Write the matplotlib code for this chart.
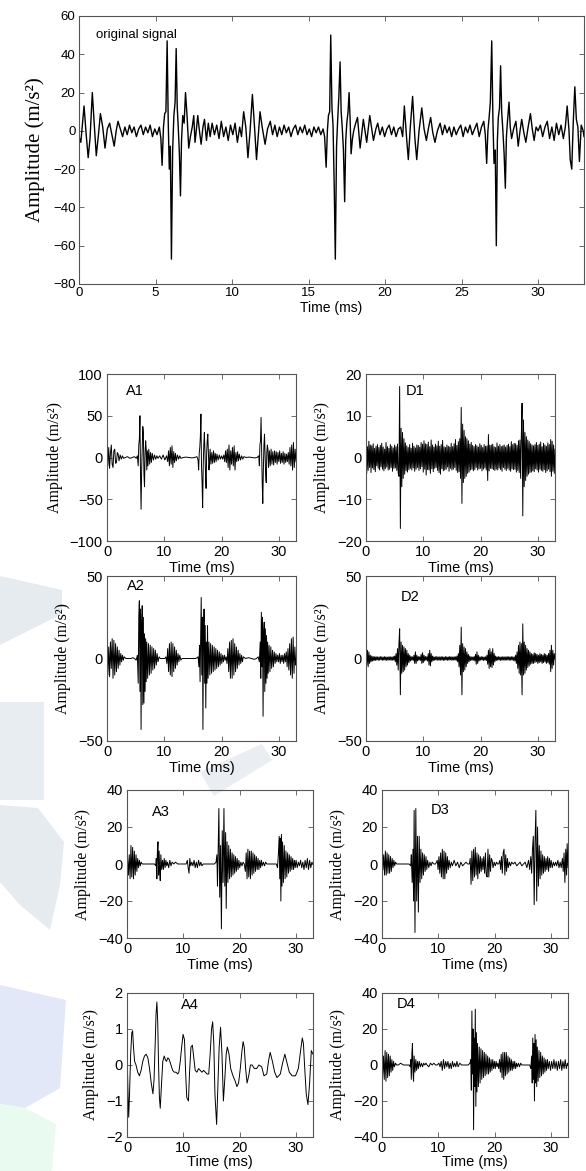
import numpy as np
import matplotlib
matplotlib.use("Agg")
import matplotlib.pyplot as plt
from matplotlib.patches import Polygon

plt.rcParams['font.family'] = ['Liberation Sans', 'DejaVu Sans']

# ---- data: (time ms, amplitude m/s^2) ----
orig_pts = [
    (0.00, -3), (0.12, -6), (0.33, 13), (0.47, -2), (0.60, -14), (0.72, -4), (0.87, 20), (1.00, 3),
    (1.13, -13), (1.27, -2), (1.40, 9), (1.55, 2), (1.70, -9), (1.85, 1), (2.00, 4), (2.15, -2),
    (2.30, -8), (2.43, 0), (2.55, 5), (2.70, 1), (2.85, -3), (3.00, 2),
    (3.15, -2), (3.30, 3), (3.45, -1), (3.60, 2), (3.75, -3), (3.90, 1), (4.05, 3), (4.20, -2),
    (4.35, 2), (4.50, -1), (4.65, 3), (4.80, -3), (4.95, 1), (5.10, -2), (5.25, 2),
    (5.35, -4), (5.43, -18), (5.52, 2), (5.60, 9), (5.68, 10), (5.76, 47), (5.83, 5), (5.90, -20),
    (5.97, -8), (6.04, -67), (6.12, -10), (6.20, 8), (6.28, 15), (6.35, 43), (6.42, 12), (6.48, 3),
    (6.56, -12), (6.63, -34), (6.70, -5), (6.78, 8), (6.87, 4), (6.96, 20), (7.06, 8), (7.17, -9),
    (7.28, -3), (7.40, 2), (7.50, 8), (7.58, -6), (7.65, -1), (7.76, 8), (7.87, 0), (7.98, -7),
    (8.10, 2), (8.20, 6), (8.33, -5), (8.45, 4), (8.57, -3), (8.70, 4),
    (8.85, -2), (9.00, 3), (9.15, -4), (9.30, 5), (9.45, -3), (9.60, 2), (9.75, -5), (9.90, 3),
    (10.05, -2), (10.20, 4), (10.35, -6), (10.50, 2),
    (10.62, -3), (10.76, 10), (10.90, 2), (11.04, -14), (11.18, 0), (11.33, 19), (11.47, 2),
    (11.60, -15), (11.72, -2), (11.83, 10), (11.97, 2), (12.16, -7), (12.32, 1), (12.50, 5),
    (12.65, -2), (12.80, 3),
    (12.95, -3), (13.10, 2), (13.25, -2), (13.40, 3), (13.55, -1), (13.70, 2), (13.85, -3),
    (14.00, 1), (14.15, 3), (14.30, -2), (14.45, 2), (14.60, -1), (14.75, 3), (14.90, -2),
    (15.05, 1), (15.20, -3), (15.35, 2), (15.50, -1), (15.65, 2), (15.80, -2), (15.95, 1),
    (16.05, -3), (16.15, -19), (16.23, 0), (16.30, 8), (16.38, 10), (16.45, 50), (16.53, 12),
    (16.60, 3), (16.68, -30), (16.75, -67), (16.83, -8), (16.90, 5), (16.98, 18), (17.06, 36),
    (17.13, 10), (17.20, 2), (17.28, -10), (17.36, -37), (17.43, -5), (17.50, 4), (17.58, 10),
    (17.65, 20), (17.72, 5), (17.78, -12), (17.87, -4), (17.95, 0), (18.08, 4), (18.20, 7),
    (18.37, -9), (18.58, 6), (18.80, -6), (19.00, 8), (19.24, -5), (19.40, 1), (19.52, 4),
    (19.67, -2), (19.82, 2), (19.97, -3), (20.12, 1), (20.27, 3), (20.42, -2), (20.57, 2),
    (20.72, -3), (20.87, 1), (21.02, 2),
    (21.15, -3), (21.26, 13), (21.40, -3), (21.52, -15), (21.65, 2), (21.80, 18), (21.95, -4),
    (22.07, -15), (22.22, 0), (22.40, 12), (22.55, 1), (22.70, -5), (22.85, 2), (22.98, 7),
    (23.12, -1), (23.26, -6), (23.42, 0), (23.60, 4),
    (23.75, -2), (23.90, 3), (24.05, -1), (24.20, 2), (24.35, -3), (24.50, 2), (24.65, -2),
    (24.80, 1), (24.95, 3), (25.10, -3), (25.25, 2), (25.40, -1), (25.55, 3), (25.70, -2),
    (25.85, 1), (26.00, 4), (26.15, -3), (26.30, 2), (26.45, 5),
    (26.55, -2), (26.64, -17), (26.72, 0), (26.80, 7), (26.88, 15), (26.97, 47), (27.05, 5),
    (27.12, -17), (27.20, -10), (27.27, -60), (27.34, -5), (27.40, 7), (27.48, 12), (27.55, 34),
    (27.62, 10), (27.70, 0), (27.78, -12), (27.86, -30), (27.93, -3), (28.00, 5), (28.10, 15),
    (28.18, 2), (28.27, -4), (28.40, 1), (28.55, 5), (28.70, -8), (28.82, 0), (28.93, 6),
    (29.07, -1), (29.20, -6), (29.35, 2), (29.50, 9), (29.62, 1), (29.74, -5), (29.87, 2),
    (30.00, 0), (30.15, 3), (30.30, -3), (30.45, 2), (30.60, 5), (30.75, -4), (30.90, 2),
    (31.05, -5), (31.20, 4), (31.35, -2), (31.50, 3), (31.65, -4), (31.78, 2),
    (31.90, 13), (32.02, 0), (32.10, -15), (32.20, -20), (32.30, 5), (32.40, 23), (32.50, 6),
    (32.60, 2), (32.70, -16), (32.82, 3), (32.95, 0), (33.00, -3),
]

a1_pts = [
    (0.00, 0), (0.15, -10), (0.30, 12), (0.45, -13), (0.60, 5), (0.75, 15), (0.90, -8), (1.05, -12),
    (1.20, 8), (1.35, 10), (1.50, -7), (1.65, -6), (1.80, 6), (1.95, 4), (2.10, -4), (2.30, 3),
    (2.50, -2), (2.70, 2), (2.90, -1), (3.2, 0), (3.6, 1), (4.0, -1), (4.4, 0), (4.8, 1),
    (5.1, -1), (5.3, 2),
    (5.45, -10), (5.55, 15), (5.65, 22), (5.75, 50), (5.85, -20), (5.95, -62), (6.05, -15),
    (6.15, 10), (6.25, 37), (6.35, 30), (6.45, -20), (6.55, -35), (6.65, 5), (6.75, 20),
    (6.85, 10), (6.95, -15), (7.05, 8), (7.15, -10), (7.30, 10), (7.45, -8), (7.60, 6),
    (7.75, -6), (7.90, 5), (8.10, -3), (8.30, 3), (8.50, -2), (8.70, 2), (8.90, -1), (9.2, 2),
    (9.5, -2), (9.8, 3), (10.1, -3), (10.4, 2),
    (10.6, -5), (10.75, 8), (10.9, -10), (11.05, 12), (11.2, -8), (11.35, 14), (11.5, -12),
    (11.65, 7), (11.8, -6), (11.95, 5), (12.1, -4), (12.3, 3), (12.5, -2), (12.7, 2), (12.9, -1),
    (13.3, 0), (13.8, 0.5), (14.3, 0), (14.8, -0.5), (15.3, 0), (15.7, 1),
    (15.9, -3), (16.0, -15), (16.1, 5), (16.2, 12), (16.3, 25), (16.4, 52), (16.5, -10),
    (16.6, -30), (16.7, -60), (16.8, -10), (16.9, 15), (17.0, 30), (17.1, 8), (17.2, -20),
    (17.3, -37), (17.4, 5), (17.5, 20), (17.6, 28), (17.7, 5), (17.8, -15), (17.9, -5),
    (18.0, 10), (18.15, -8), (18.3, 6), (18.45, -7), (18.6, 8), (18.75, -6), (18.9, 5),
    (19.05, -5), (19.2, 4), (19.4, -3), (19.6, 3), (19.8, -2), (20.0, 2), (20.2, -2), (20.4, 3),
    (20.55, -5), (20.7, 8), (20.85, -6), (21.0, 10), (21.15, -12), (21.3, 15), (21.45, -15),
    (21.6, 8), (21.75, -8), (21.9, 12), (22.05, -10), (22.2, 14), (22.35, -15), (22.5, 6),
    (22.65, -5), (22.8, 7), (22.95, -4), (23.1, 4), (23.3, -3), (23.5, 2), (23.7, -2), (23.9, 1),
    (24.3, 0), (24.8, 0.5), (25.3, 0), (25.8, -0.5), (26.2, 0), (26.5, 2),
    (26.6, -10), (26.7, 15), (26.8, 20), (26.9, 48), (27.0, 10), (27.1, -30), (27.2, -55),
    (27.3, -15), (27.4, 15), (27.5, 28), (27.6, 5), (27.7, -20), (27.8, -30), (27.9, 5),
    (28.0, 15), (28.1, 10), (28.2, -12), (28.35, 8), (28.5, -10), (28.65, 10), (28.8, -8),
    (28.95, 7), (29.1, -9), (29.25, 8), (29.4, -6), (29.55, 7), (29.7, -8), (29.85, 6),
    (30.0, -5), (30.15, 8), (30.3, -7), (30.45, 5), (30.6, -6), (30.75, 7), (30.9, -8),
    (31.05, 5), (31.2, -6), (31.35, 4), (31.5, -5), (31.65, 6), (31.8, -8), (31.95, 12),
    (32.1, -10), (32.25, 15), (32.4, -15), (32.55, 18), (32.7, -12), (32.85, 10), (33.0, -5),
]

# D1 / D2: detail bands, one value every 0.125 ms (8 per ms)
d1_vals = [
    3.5, -3.8, 2.6, -3.1, 3.9, -2.4, 3.0, -3.6,
    2.8, -2.5, 3.3, -2.9, 2.2, -3.4, 2.7, -2.0,
    3.1, -2.6, 2.4, -3.0, 2.9, -2.2, 3.4, -2.8,
    2.5, -3.2, 2.0, -2.7, 3.6, -2.3, 2.6, -3.0,
    2.2, -2.8, 3.1, -2.4, 2.7, -3.3, 2.3, -2.6,
    3.0, -2.5, 2.6, -3.1, 3.2, -3.8, -4.5, 17.0,
    -17.0, 7.0, -7.0, 6.0, -5.0, 4.5, -4.0, 3.5,
    -3.2, 2.8, -3.5, 2.4, -2.9, 3.1, -2.6, 2.2,
    -3.0, 3.4, -2.5, 2.7, -3.3, 2.3, -2.8, 3.0,
    -2.4, 2.9, -3.1, 2.5, -2.7, 3.6, -2.2, 3.2,
    -3.5, 4.0, -2.8, 3.3, -4.2, 3.1, -2.9, 3.7,
    -3.0, 2.6, -3.8, 4.2, -2.7, 3.0, -3.4, 2.5,
    -2.6, 3.2, -2.4, 2.8, -3.1, 3.9, -3.6, 2.7,
    -4.0, 3.1, -2.7, 4.1, -3.2, 2.6, -3.0, 2.4,
    -2.8, 3.0, -2.3, 2.7, -3.3, 2.5, -2.6, 3.4,
    -3.0, 2.6, -2.8, 3.3, -2.4, 4.3, -3.1, 2.9,
    -3.6, 3.8, -3.4, 4.5, -5.0, 12.0, -11.0, 8.0,
    -6.0, 6.5, -5.0, 5.0, -4.5, 4.5, -3.8, 4.0,
    -3.5, 3.2, -3.0, 3.6, -2.8, 2.9, -3.2, 2.6,
    -2.9, 3.1, -2.4, 2.8, -3.0, 2.5, -2.7, 3.3,
    -2.6, 2.9, -3.2, 2.4, -2.8, 3.1, -2.5, 2.7,
    -3.0, 2.8, -5.5, 5.5, -3.2, 2.9, -2.6, 3.0,
    -2.7, 3.2, -2.9, 2.6, -3.1, 2.4, -2.8, 3.5,
    -3.0, 2.7, -2.5, 3.1, -2.9, 2.6, -3.3, 2.8,
    -2.4, 3.0, -2.8, 2.5, -3.1, 2.9, -2.6, 3.2,
    -3.0, 2.6, -3.3, 3.8, -2.7, 3.1, -2.9, 3.4,
    -2.8, 3.3, -3.5, 2.9, -3.1, 4.0, -3.6, 4.2,
    -5.0, 5.5, 13.0, -14.0, 9.0, -7.0, 6.0, -5.5,
    5.0, -4.5, 4.2, -4.0, 3.8, -3.6, 3.3, -3.5,
    3.0, -3.2, 2.8, -3.4, 3.1, -2.7, 3.6, -3.0,
    2.9, -3.5, 3.2, -2.8, 3.7, -3.1, 2.6, -3.3,
    3.4, -2.9, 3.0, -3.6, 2.7, -3.2, 3.5, -2.8,
    3.1, -3.4, 4.3, -4.5, 3.9, -3.3, 3.0, -3.8,
    2.0,
]

a2_pts = [
    (0.0, 3), (0.15, -10), (0.3, 7), (0.45, -11), (0.6, 10), (0.75, -6), (0.9, 12), (1.05, -12),
    (1.2, 11), (1.35, -10), (1.5, 9), (1.65, -8), (1.8, 7), (1.95, -6), (2.1, 5), (2.25, -4),
    (2.4, 3), (2.55, -2), (2.7, 2), (2.85, -1), (3.0, 1), (3.3, 0), (3.6, 0), (3.9, 0),
    (4.2, 0), (4.5, 0.5), (4.8, 0), (5.1, -1), (5.3, 2),
    (5.45, -15), (5.55, 25), (5.65, 35), (5.75, -20), (5.85, 30), (5.95, -43), (6.05, 20),
    (6.15, 32), (6.25, -28), (6.35, 25), (6.45, -27), (6.55, 15), (6.65, -20), (6.75, 12),
    (6.85, -14), (6.95, 10), (7.1, -12), (7.25, 9), (7.4, -10), (7.55, 8), (7.7, -9),
    (7.85, 7), (8.0, -7), (8.15, 6), (8.3, -6), (8.45, 5), (8.6, -4), (8.75, 3), (8.9, -2),
    (9.1, 1), (9.3, 0), (9.5, 0), (9.7, 0), (9.9, 0), (10.1, 0), (10.3, 1),
    (10.45, -3), (10.6, 6), (10.75, -8), (10.9, 9), (11.05, -10), (11.2, 10), (11.35, -11),
    (11.5, 9), (11.65, -8), (11.8, 7), (11.95, -6), (12.1, 5), (12.25, -4), (12.4, 3),
    (12.55, -2), (12.7, 2), (12.9, -1), (13.1, 0),
    (13.5, 0), (14.0, 0), (14.5, 0), (15.0, 0), (15.5, 0), (15.9, 1),
    (16.05, -5), (16.15, 8), (16.25, -14), (16.35, 12), (16.45, 37), (16.55, -10), (16.65, 25),
    (16.75, -43), (16.85, 15), (16.95, 30), (17.05, -15), (17.15, 20), (17.25, -30), (17.35, 10),
    (17.45, -15), (17.55, 20), (17.65, -12), (17.8, 10), (17.95, -10), (18.1, 9), (18.25, -9),
    (18.4, 8), (18.55, -8), (18.7, 7), (18.85, -7), (19.0, 6), (19.15, -6), (19.3, 5),
    (19.45, -5), (19.6, 4), (19.75, -4), (19.9, 3), (20.05, -3), (20.2, 2), (20.35, -2),
    (20.5, 2), (20.65, -1), (20.8, 1),
    (20.95, -3), (21.1, 6), (21.25, -8), (21.4, 10), (21.55, -12), (21.7, 11), (21.85, -12),
    (22.0, 12), (22.15, -10), (22.3, 9), (22.45, -8), (22.6, 7), (22.75, -6), (22.9, 5),
    (23.05, -4), (23.2, 3), (23.35, -3), (23.5, 2), (23.65, -2), (23.8, 1),
    (24.2, 0), (24.7, 0.5), (25.2, 0), (25.7, -0.5), (26.1, 0), (26.4, 1), (26.6, -2),
    (26.75, 10), (26.85, -12), (26.95, 28), (27.05, -5), (27.15, 25), (27.25, -35), (27.35, 15),
    (27.45, 22), (27.55, -20), (27.65, 18), (27.75, -15), (27.85, 14), (27.95, -12),
    (28.05, 10), (28.15, -9), (28.3, 8), (28.45, -8), (28.6, 7), (28.75, -6), (28.9, 5),
    (29.05, -5), (29.2, 4), (29.35, -3), (29.5, 3), (29.65, -2), (29.8, 2), (29.95, -2),
    (30.1, 3), (30.25, -3), (30.4, 2), (30.55, -2), (30.7, 2), (30.85, -3), (31.0, 3),
    (31.15, -2), (31.3, 4), (31.45, -5), (31.6, 6), (31.75, -7), (31.9, 9), (32.05, -10),
    (32.2, 12), (32.35, -12), (32.5, 13), (32.65, -9), (32.8, 7), (32.95, -4), (33.0, 0),
]

d2_vals = [
    3.0, -4.0, 5.0, -5.0, 4.0, -3.0, 2.0, -2.0,
    1.5, -1.5, 1.2, -1.3, 1.0, -1.2, 1.1, -0.9,
    1.0, -1.1, 0.9, -1.0, 1.2, -0.8, 1.0, -1.1,
    0.9, -1.0, 1.1, -0.9, 1.0, -1.2, 0.8, -1.0,
    1.1, -0.9, 1.0, -1.1, 0.9, -1.0, 1.2, -1.0,
    1.5, -2.0, 3.0, -4.0, 6.0, -7.0, 9.0, 18.0,
    -22.0, 10.0, -9.0, 8.0, -8.0, 7.0, -7.0, 6.0,
    -5.0, 5.0, -4.0, 3.0, -2.5, 2.0, -1.5, 1.2,
    -1.0, 1.0, -1.2, 2.0, -3.0, 4.0, -3.0, 2.0,
    -1.5, 1.2, -1.0, 1.0, -1.2, 2.5, -3.0, 3.5,
    -2.5, 2.0, -1.5, 1.2, -1.0, 1.1, -1.5, 3.0,
    -4.0, 5.0, -4.5, 3.0, -2.0, 1.5, -1.2, 1.0,
    -1.1, 1.0, -0.9, 1.2, -1.0, 0.9, -1.1, 1.0,
    -1.0, 1.1, -0.9, 1.0, -1.2, 0.9, -1.0, 1.1,
    -0.9, 1.0, -1.1, 0.9, -1.0, 1.2, -0.8, 1.0,
    -1.1, 0.9, -1.0, 1.1, -0.9, 1.0, -1.2, 1.5,
    -2.0, 3.0, -5.0, 8.0, -10.0, 19.0, -22.0, 9.0,
    -8.0, 7.0, -7.0, 6.0, -5.0, 4.0, -3.0, 2.5,
    -2.0, 1.5, -1.2, 1.0, -1.1, 0.9, -1.0, 1.2,
    -1.5, 2.5, -3.5, 4.0, -3.0, 2.0, -1.5, 1.0,
    -1.0, 1.1, -0.9, 1.0, -1.2, 0.9, -1.0, 1.1,
    -1.2, 2.0, -3.5, 5.0, -6.0, 6.0, -5.0, 4.0,
    -5.5, 6.0, -4.0, 3.0, -2.0, 1.5, -1.2, 1.0,
    -1.0, 1.1, -0.9, 1.0, -1.2, 0.9, -1.0, 1.1,
    -0.9, 1.0, -1.1, 0.9, -1.0, 1.2, -0.8, 1.0,
    -1.1, 1.0, -1.0, 1.1, -0.9, 1.0, -1.2, 1.0,
    -1.5, 2.0, -3.0, 4.0, -6.0, 8.0, -9.0, 10.0,
    -10.0, 9.0, -22.0, 21.0, -10.0, 10.0, -9.0, 8.0,
    -7.0, 6.0, -5.5, 5.0, -4.5, 4.0, -3.5, 3.0,
    -3.0, 2.5, -3.0, 3.5, -2.5, 3.0, -2.0, 2.5,
    -3.0, 2.0, -2.5, 3.0, -2.0, 2.5, -3.0, 2.0,
    -2.5, 3.0, -2.0, 2.5, -3.0, 2.0, -2.5, 3.0,
    -3.5, 5.0, -8.0, 8.0, -6.0, 5.0, -4.0, 3.0,
    0.0,
]

a3_pts = [
    (0.0, 0), (0.1, 3), (0.25, -6), (0.4, 5), (0.55, -8), (0.7, 10), (0.85, -7), (1.0, 9),
    (1.15, -8), (1.3, 7), (1.45, -6), (1.6, 5), (1.75, -4), (1.9, 3), (2.05, -2), (2.2, 2),
    (2.35, -1), (2.5, 1), (2.7, 0), (3.0, 0), (3.5, 0), (4.0, 0), (4.5, 0), (4.9, 0), (5.1, -1),
    (5.2, 3), (5.3, -8), (5.4, 8), (5.5, 12), (5.6, -6), (5.7, 7), (5.8, -4), (5.9, -9),
    (6.0, 5), (6.15, -3), (6.3, 2), (6.45, -3), (6.6, 3), (6.75, -2), (6.9, 2), (7.05, -1),
    (7.2, 1), (7.4, -2), (7.6, 2), (7.8, -1), (8.0, 1), (8.3, 0), (8.6, 1), (9.0, 0),
    (9.5, 0), (10.0, 0), (10.5, 0),
    (10.7, 2), (10.85, -2), (11.0, -5), (11.15, 3), (11.3, -1), (11.5, 1), (11.7, -1),
    (11.9, 2), (12.1, -2), (12.3, 1), (12.5, -2), (12.7, 2), (12.9, -1), (13.1, 1), (13.3, -1),
    (13.5, 0), (14.0, 0), (14.5, 0), (15.0, 0), (15.5, 0), (15.8, 1),
    (15.95, 5), (16.05, -12), (16.15, 3), (16.3, 30), (16.45, -18), (16.6, 10), (16.75, -35),
    (16.9, 18), (17.05, -10), (17.2, 30), (17.35, -12), (17.5, 17), (17.6, -24), (17.75, 12),
    (17.9, -10), (18.05, 10), (18.2, -8), (18.35, 8), (18.5, -7), (18.65, 6), (18.8, -6),
    (18.95, 5), (19.1, -5), (19.25, 4), (19.4, -4), (19.55, 3), (19.7, -3), (19.85, 2),
    (20.0, -2), (20.2, 1), (20.4, -1), (20.6, 1), (20.8, 0),
    (21.0, -4), (21.15, 6), (21.3, -8), (21.45, 8), (21.6, -7), (21.75, 7), (21.9, -8),
    (22.05, 7), (22.2, -6), (22.35, 6), (22.5, -5), (22.65, 5), (22.8, -4), (22.95, 4),
    (23.1, -3), (23.25, 3), (23.4, -3), (23.55, 2), (23.7, -2), (23.85, 2), (24.0, -1),
    (24.2, 1), (24.4, -1), (24.6, 1), (24.8, 0), (25.0, 0), (25.5, 0), (26.0, 0), (26.5, 0),
    (26.7, -2),
    (26.85, 5), (27.0, 15), (27.1, -8), (27.2, 14), (27.3, -20), (27.4, 16), (27.5, -12),
    (27.6, 12), (27.75, -10), (27.9, 10), (28.05, -8), (28.2, 7), (28.35, -7), (28.5, 6),
    (28.65, -5), (28.8, 5), (28.95, -4), (29.1, 4), (29.25, -3), (29.4, 3), (29.55, -3),
    (29.7, 2), (29.85, -2), (30.0, 2), (30.2, -2), (30.4, 1), (30.6, -1), (30.8, 2),
    (31.0, -2), (31.2, 1), (31.4, -3), (31.6, 2), (31.8, -2), (32.0, 3), (32.2, -3),
    (32.4, 2), (32.6, -2), (32.8, 1), (33.0, 0),
]

d3_pts = [
    (0.0, 0), (0.15, -3), (0.3, 5), (0.45, -6), (0.6, 7), (0.75, -6), (0.9, 6), (1.05, -5),
    (1.2, 5), (1.35, -5), (1.5, 4), (1.65, -4), (1.8, 3), (1.95, -2), (2.1, 2), (2.25, -1),
    (2.4, 1), (2.6, 0), (2.9, 0), (3.3, 0), (3.8, 0), (4.3, 0), (4.8, 0), (5.1, -1),
    (5.2, 5), (5.35, -10), (5.5, 8), (5.6, -20), (5.7, 29), (5.85, -37), (6.0, 30), (6.15, -20),
    (6.3, 15), (6.45, -26), (6.6, 15), (6.75, -10), (6.9, 8), (7.05, -8), (7.2, 6), (7.35, -6),
    (7.5, 5), (7.65, -4), (7.8, 4), (7.95, -3), (8.1, 2), (8.3, -2), (8.5, 1), (8.7, -1),
    (8.9, 1), (9.2, 0), (9.5, 0),
    (9.8, 2), (9.95, -3), (10.1, 4), (10.25, -5), (10.4, 6), (10.55, -7), (10.7, 8),
    (10.85, -8), (11.0, 7), (11.15, -8), (11.3, 6), (11.45, -5), (11.6, 4), (11.75, -3),
    (11.9, 2), (12.1, -2), (12.3, 1), (12.5, -1), (12.8, 2), (13.1, -1), (13.4, 1),
    (13.7, -2), (14.0, 1), (14.3, -1), (14.6, 0), (14.9, 1), (15.2, 0), (15.5, 0),
    (15.65, 3), (15.8, -11), (15.95, 7), (16.1, -9), (16.25, 8), (16.4, -7), (16.55, 9),
    (16.7, -6), (16.85, 6), (17.0, -8), (17.15, 5), (17.3, -5), (17.45, 4), (17.6, -4),
    (17.75, 3), (17.9, -3), (18.05, 4), (18.2, -5), (18.35, 6), (18.5, -6), (18.65, -7),
    (18.8, 8), (18.95, -7), (19.1, 5), (19.25, -4), (19.4, 3), (19.55, 2), (19.7, -2),
    (19.9, 1), (20.1, -1), (20.3, 1), (20.5, 0), (20.7, 0),
    (20.9, 2), (21.05, -3), (21.2, 4), (21.35, -5), (21.5, 6), (21.65, 8), (21.8, -6),
    (21.95, 5), (22.1, -4), (22.25, 3), (22.4, -2), (22.6, 1), (22.8, -1), (23.0, 1),
    (23.3, 0), (23.6, 1), (23.9, -1), (24.2, 0), (24.5, 1), (24.8, -1), (25.1, 0),
    (25.4, 1), (25.7, -2), (26.0, 2), (26.2, -3), (26.4, 4),
    (26.55, -5), (26.7, 8), (26.85, 15), (27.0, -22), (27.15, 12), (27.3, 29), (27.45, -20),
    (27.6, 20), (27.75, -12), (27.9, 10), (28.05, -8), (28.2, 7), (28.35, -6), (28.5, 5),
    (28.65, -5), (28.8, 4), (28.95, -4), (29.1, 3), (29.25, -3), (29.4, 4), (29.55, -4),
    (29.7, 3), (29.85, -2), (30.0, 2), (30.2, -2), (30.4, 1), (30.6, -1), (30.8, 1),
    (31.0, -1), (31.2, 2), (31.4, -2), (31.6, 1), (31.8, -2), (32.0, 3), (32.15, -4),
    (32.3, 6), (32.45, -10), (32.6, 8), (32.75, -6), (32.85, 11), (33.0, -2),
]

a4_pts = [
    (0.0, 0.4), (0.15, -0.6), (0.3, -1.45), (0.45, -0.8), (0.65, 0.3), (0.85, 0.9), (1.0, 0.95),
    (1.15, 0.5), (1.35, 0.1), (1.6, 0.0), (1.9, -0.2), (2.2, -0.3), (2.5, -0.15), (2.8, 0.1),
    (3.1, 0.25), (3.4, 0.3), (3.7, 0.2), (4.0, -0.1), (4.3, -0.5), (4.6, -0.8), (4.8, -0.4),
    (5.0, 0.6), (5.15, 1.4), (5.3, 1.75), (5.45, 1.2), (5.6, 0.0), (5.75, -0.9), (5.9, -1.2),
    (6.1, -0.6), (6.35, 0.1), (6.6, 0.25), (6.8, 0.15), (7.0, 0.1), (7.25, 0.2), (7.5, 0.15),
    (7.8, 0.0), (8.1, -0.15), (8.4, -0.2), (8.7, -0.2), (9.0, -0.25), (9.2, -0.2), (9.45, 0.1),
    (9.7, 0.5), (9.95, 0.85), (10.2, 0.7), (10.4, -0.2), (10.6, -0.9), (10.9, -1.0),
    (11.1, -0.2), (11.35, 0.5), (11.6, 0.55), (11.85, 0.2), (12.1, -0.15), (12.4, -0.2),
    (12.7, -0.1), (13.0, -0.15), (13.3, -0.2), (13.6, -0.15), (13.9, -0.2), (14.2, -0.25),
    (14.5, -0.25), (14.75, 0.3), (15.0, 1.0), (15.2, 1.2), (15.4, 0.6), (15.6, -0.8),
    (15.9, -1.65), (16.1, -0.7), (16.35, 0.5), (16.6, 1.05), (16.85, 0.3), (17.1, -1.0),
    (17.35, -0.4), (17.6, 0.3), (17.8, 0.5), (18.1, 0.3), (18.4, -0.1), (18.8, -0.3),
    (19.2, -0.45), (19.5, -0.6), (19.8, -0.5), (20.1, -0.1), (20.4, 0.4), (20.6, 0.65),
    (20.8, 0.5), (21.05, -0.1), (21.3, -0.5), (21.6, -0.3), (21.9, 0.0), (22.2, 0.0),
    (22.6, -0.1), (23.0, -0.1), (23.4, 0.0), (23.9, -0.05), (24.3, -0.3), (24.8, -0.25),
    (25.1, 0.1), (25.4, 0.35), (25.8, 0.1), (26.2, -0.2), (26.6, -0.35), (27.2, -0.25),
    (27.6, 0.05), (28.0, 0.3), (28.4, 0.05), (28.8, -0.2), (29.3, -0.3), (29.9, -0.3),
    (30.4, -0.1), (30.8, 0.4), (31.1, 0.75), (31.3, 0.6), (31.5, 0.0), (31.8, -0.8),
    (32.1, -1.1), (32.4, -0.5), (32.7, 0.4), (33.0, 0.3),
]

d4_pts = [
    (0.0, 4), (0.1, -6), (0.25, 5), (0.4, -8), (0.55, 8), (0.7, -9), (0.85, 7), (1.0, -7),
    (1.15, 6), (1.3, -6), (1.45, 5), (1.6, -4), (1.75, 3), (1.9, -3), (2.05, 2), (2.2, -1),
    (2.4, 1), (2.6, 0), (2.9, 0), (3.3, 1), (3.8, 0), (4.3, 0), (4.8, 0), (5.0, -1),
    (5.1, 3), (5.2, -8), (5.3, 6), (5.4, 12), (5.5, -4), (5.6, -9), (5.7, 5), (5.85, -4),
    (6.0, 3), (6.15, -3), (6.3, 2), (6.45, -2), (6.6, 2), (6.8, -1), (7.0, 1), (7.2, -1),
    (7.4, 1), (7.6, 0), (7.8, 1), (8.0, 0), (8.3, -1), (8.6, 1), (8.9, 0), (9.2, 1),
    (9.5, 0), (9.8, 0),
    (10.1, 1), (10.3, -1), (10.5, 2), (10.7, -3), (10.9, 3), (11.1, -2), (11.3, 2), (11.5, -1),
    (11.7, 2), (11.9, -2), (12.1, 1), (12.3, -2), (12.5, 2), (12.7, -1), (12.9, 1), (13.1, -1),
    (13.3, 2), (13.5, -1), (13.8, 1), (14.1, 0), (14.4, 0), (14.7, 0), (15.0, 0), (15.3, 0),
    (15.6, 1),
    (15.75, 3), (15.85, -14), (15.95, 30), (16.05, -5), (16.15, 20), (16.25, -36), (16.35, 15),
    (16.45, -12), (16.55, 31), (16.65, -23), (16.75, 18), (16.85, -15), (16.95, 12),
    (17.1, -12), (17.25, 10), (17.4, -10), (17.55, 9), (17.7, -8), (17.85, 8), (18.0, -7),
    (18.15, 7), (18.3, -6), (18.45, 6), (18.6, -5), (18.75, 5), (18.9, -5), (19.05, 4),
    (19.2, -4), (19.35, 3), (19.5, -3), (19.65, 3), (19.8, -2), (19.95, 2), (20.1, -2),
    (20.25, 2), (20.4, -1), (20.55, 1),
    (20.7, -2), (20.85, 3), (21.0, -4), (21.15, 6), (21.3, -7), (21.45, 7), (21.6, -8),
    (21.75, 7), (21.9, -6), (22.05, 7), (22.2, -5), (22.35, 5), (22.5, -4), (22.65, 4),
    (22.8, -3), (22.95, 3), (23.1, -3), (23.25, 2), (23.4, -2), (23.55, 2), (23.7, -2),
    (23.85, 1), (24.0, -1), (24.2, 1), (24.4, -1), (24.6, 1), (24.8, 0), (25.0, 0),
    (25.3, 0), (25.6, 0), (25.9, 0), (26.2, 0), (26.4, -2),
    (26.55, 5), (26.65, -10), (26.75, 15), (26.85, -8), (26.95, 12), (27.05, -20), (27.15, 17),
    (27.25, -10), (27.35, 14), (27.45, -12), (27.55, 10), (27.7, -9), (27.85, 8), (28.0, -7),
    (28.15, 7), (28.3, -6), (28.45, 5), (28.6, -5), (28.75, 4), (28.9, -4), (29.05, 3),
    (29.2, -3), (29.35, 3), (29.5, -2), (29.7, 2), (29.9, -3), (30.1, 2), (30.3, -2),
    (30.5, 3), (30.7, -2), (30.9, 2), (31.1, -3), (31.3, 2), (31.5, -2), (31.7, 3),
    (31.9, -3), (32.1, 2), (32.3, -2), (32.5, 3), (32.7, -2), (32.9, 1), (33.0, 0),
]

panel_names = ["A1", "D1", "A2", "D2", "A3", "D3", "A4", "D4"]
panel_ylims = [100, 20, 50, 50, 40, 40, 2, 40]
panel_yticks = [
    [-100, -50, 0, 50, 100], [-20, -10, 0, 10, 20], [-50, 0, 50], [-50, 0, 50],
    [-40, -20, 0, 20, 40], [-40, -20, 0, 20, 40], [-2, -1, 0, 1, 2], [-40, -20, 0, 20, 40],
]
label_pos = [(3.3, 80), (7.0, 16), (3.5, 44), (6.1, 37), (4.4, 28), (8.7, 29), (9.6, 1.67), (2.7, 34)]

D_STEP = 0.125  # sampling step of the detail bands (ms)


def series(name):
    if name in ("D1", "D2"):
        vals = d1_vals if name == "D1" else d2_vals
        return np.arange(len(vals)) * D_STEP, np.array(vals)
    pts = {"A1": a1_pts, "A2": a2_pts, "A3": a3_pts, "A4": a4_pts,
           "D3": d3_pts, "D4": d4_pts}[name]
    t, y = zip(*pts)
    return np.array(t), np.array(y)


def style(ax, fs, pad):
    ax.tick_params(direction="in", top=True, right=True, labelsize=fs, length=3.5,
                   width=0.6, color="#555555", pad=pad)
    for s in ax.spines.values():
        s.set_color("#555555")
        s.set_linewidth(0.8)
    ax.set_xlim(0, 33)


fig = plt.figure(figsize=(5.86, 11.71), dpi=100)
W, H = 586.0, 1171.0


def px(x, y):
    return (x / W, 1 - y / H)


# faint watermark shapes in the page background
wm = [
    ([(0, 576), (62, 590), (62, 614), (0, 645)], "#e6ebf0"),
    ([(0, 702), (44, 702), (44, 800), (0, 800)], "#e8edf1"),
    ([(200, 772), (262, 744), (272, 760), (214, 796)], "#eaeef2"),
    ([(0, 805), (38, 808), (64, 842), (60, 885), (50, 930), (20, 905), (0, 882)], "#e6ebf0"),
    ([(0, 985), (66, 1000), (60, 1088), (25, 1108), (0, 1104)], "#e2e8f8"),
    ([(0, 1104), (25, 1108), (56, 1124), (52, 1171), (0, 1171)], "#e9faf1"),
]
for verts, col in wm:
    fig.patches.append(Polygon([px(*v) for v in verts], closed=True, transform=fig.transFigure,
                               facecolor=col, edgecolor="none", zorder=-5))


def add_ax(left, top, right, bottom):
    return fig.add_axes([left / W, 1 - bottom / H, (right - left) / W, (bottom - top) / H])


# top panel: original signal
ax0 = add_ax(79, 16, 584, 284)
t0, y0 = zip(*orig_pts)
ax0.plot(t0, y0, color="black", lw=1.0)
style(ax0, 9.5, 2.5)
ax0.set_ylim(-80, 60)
ax0.set_yticks(range(-80, 61, 20))
ax0.set_xticks(range(0, 31, 5))
ax0.set_xlabel("Time (ms)", fontsize=10, labelpad=1)
ax0.set_ylabel("Amplitude (m/s²)", fontsize=15, family="Liberation Serif", labelpad=6)
ax0.text(1.1, 50, "original signal", fontsize=9.5, va="center")

# decomposition panels
boxes = [
    (107, 374, 296, 541), (366, 374, 555, 541),
    (107, 576, 296, 741), (366, 576, 555, 741),
    (127, 790, 313, 938), (382, 790, 568, 938),
    (127, 993, 313, 1137), (382, 993, 568, 1137),
]
for i, (name, box, lim, yt, lp) in enumerate(zip(panel_names, boxes, panel_ylims,
                                                  panel_yticks, label_pos)):
    ax = add_ax(*box)
    ax.patch.set_alpha(0)
    t, y = series(name)
    ax.plot(t, y, color="black", lw=0.7)
    style(ax, 10.5, 3)
    ax.set_ylim(-lim, lim)
    ax.set_yticks(yt)
    ax.set_xticks([0, 10, 20, 30])
    ax.set_xlabel("Time (ms)", fontsize=10.5, labelpad=0 if i >= 6 else 1)
    ax.set_ylabel("Amplitude (m/s²)", fontsize=11.5, family="Liberation Serif", labelpad=5)
    ax.text(lp[0], lp[1], name, fontsize=10.5, ha="left", va="center")

fig.savefig("out.png", dpi=100)
